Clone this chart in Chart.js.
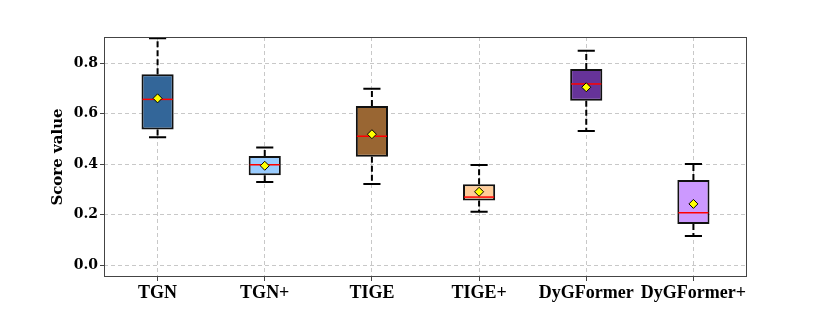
<!DOCTYPE html>
<html>
<head>
<meta charset="utf-8">
<script src="https://cdn.jsdelivr.net/npm/chart.js@4.4.1/dist/chart.umd.min.js"></script>
<style>
  html, body { margin: 0; padding: 0; background: #fff; }
</style>
</head>
<body>
<canvas id="myChart" width="830" height="312"></canvas>
<script>
const models = ["TGN", "TGN+", "TIGE", "TIGE+", "DyGFormer", "DyGFormer+"];
const whiskerLow = [0.506, 0.329, 0.321, 0.211, 0.531, 0.115];
const q1 = [0.537, 0.355, 0.429, 0.255, 0.651, 0.162];
const median = [0.656, 0.397, 0.510, 0.269, 0.717, 0.207];
const q3 = [0.755, 0.432, 0.630, 0.320, 0.776, 0.337];
const whiskerHigh = [0.898, 0.465, 0.698, 0.396, 0.849, 0.400];
const mean = [0.660, 0.393, 0.518, 0.290, 0.704, 0.242];
const yTicks = [0.0, 0.2, 0.4, 0.6, 0.8];

const boxColors = ['#336699', '#99ccff', '#996633', '#ffcc99', '#663399', '#cc99ff'];

const chart = document.getElementById("myChart");

// whiskers, caps, medians and the frame round the plot
const boxExtras = {
    id: 'boxExtras',
    beforeDatasetsDraw(c) {
        const ctx = c.ctx;
        const x = c.scales.x;
        const y = c.scales.y;
        const step = x.getPixelForValue(1) - x.getPixelForValue(0);
        const capW = step * 0.08;
        ctx.save();
        ctx.strokeStyle = '#000';
        ctx.lineWidth = 2;
        for (let i = 0; i < models.length; i++) {
            const cx = x.getPixelForValue(i);
            ctx.setLineDash([6, 3]);
            ctx.beginPath();
            ctx.moveTo(cx, y.getPixelForValue(q3[i]));
            ctx.lineTo(cx, y.getPixelForValue(whiskerHigh[i]));
            ctx.moveTo(cx, y.getPixelForValue(q1[i]));
            ctx.lineTo(cx, y.getPixelForValue(whiskerLow[i]));
            ctx.stroke();
            ctx.setLineDash([]);
            ctx.beginPath();
            ctx.moveTo(cx - capW, y.getPixelForValue(whiskerHigh[i]));
            ctx.lineTo(cx + capW, y.getPixelForValue(whiskerHigh[i]));
            ctx.moveTo(cx - capW, y.getPixelForValue(whiskerLow[i]));
            ctx.lineTo(cx + capW, y.getPixelForValue(whiskerLow[i]));
            ctx.stroke();
        }
        ctx.restore();
    },
    afterDatasetDraw(c, args) {
        if (args.index !== 0) return;
        const ctx = c.ctx;
        const meta = c.getDatasetMeta(0);
        const y = c.scales.y;
        ctx.save();
        ctx.strokeStyle = '#ff0000';
        ctx.lineWidth = 1.5;
        meta.data.forEach((bar, i) => {
            const py = y.getPixelForValue(median[i]);
            ctx.beginPath();
            ctx.moveTo(bar.x - bar.width / 2 + 1, py);
            ctx.lineTo(bar.x + bar.width / 2 - 1, py);
            ctx.stroke();
        });
        ctx.restore();
    },
    afterDraw(c) {
        const a = c.chartArea;
        const ctx = c.ctx;
        ctx.save();
        ctx.strokeStyle = '#444';
        ctx.lineWidth = 1;
        ctx.strokeRect(a.left + 0.5, a.top + 0.5, a.right - a.left - 1, a.bottom - a.top - 1);
        ctx.restore();
    }
};

let boxplot = new Chart(chart, {
    type: 'bar',
    data: {
        labels: models,
        datasets: [{
            label: 'IQR',
            data: q1.map((v, i) => [v, q3[i]]),
            backgroundColor: boxColors,
            borderColor: '#111',
            borderWidth: 2,
            borderSkipped: false,
            barPercentage: 0.3,
            categoryPercentage: 1.0,
            order: 2
        },
        {
            type: 'line',
            label: 'Mean',
            data: mean,
            showLine: false,
            pointStyle: 'rectRot',
            pointRadius: 4.5,
            pointBackgroundColor: '#ffff00',
            pointBorderColor: '#000',
            pointBorderWidth: 1,
            order: 1
        }]
    },
    options: {
        responsive: false,
        animation: false,
        layout: { padding: { left: 49, right: 83, top: 37, bottom: 0 } },
        plugins: {
            legend: { display: false },
            tooltip: { enabled: false }
        },
        scales: {
            x: {
                offset: true,
                afterFit(scale) { scale.height = 35; },
                grid: {
                    offset: false,
                    color: '#c8c8c8',
                    tickColor: '#444',
                    tickLength: 4,
                    tickBorderDash: []
                },
                border: { display: false, dash: [4, 3] },
                ticks: {
                    color: '#000',
                    padding: 2,
                    maxRotation: 0,
                    autoSkip: false,
                    font: { family: 'Liberation Serif', weight: 'bold', size: 18 }
                }
            },
            y: {
                min: -0.0475,
                max: 0.903,
                afterFit(scale) { scale.width = 55; },
                afterBuildTicks(scale) { scale.ticks = yTicks.map(v => ({ value: v })); },
                grid: {
                    color: '#c8c8c8',
                    tickColor: '#444',
                    tickLength: 4,
                    tickBorderDash: []
                },
                border: { display: false, dash: [4, 3] },
                ticks: {
                    color: '#000',
                    padding: 2,
                    callback: v => v.toFixed(1),
                    font: { family: 'DejaVu Serif', weight: 'bold', size: 14 }
                },
                title: {
                    display: true,
                    text: 'Score value',
                    color: '#000',
                    padding: 0,
                    font: { family: 'DejaVu Serif', weight: 'bold', size: 15 }
                }
            }
        }
    },
    plugins: [boxExtras]
});
</script>
</body>
</html>
